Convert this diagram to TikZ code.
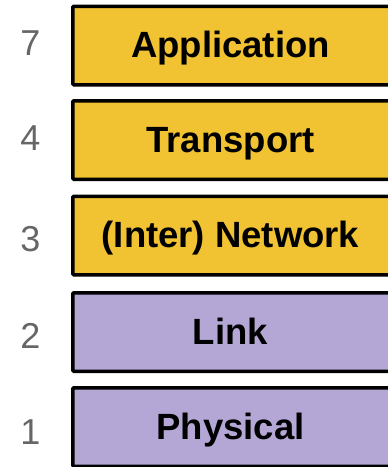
\documentclass[tikz,border=0pt]{standalone}
\usepackage{fontspec}
\setmainfont{Liberation Sans}
\definecolor{layeryellow}{HTML}{F1C232}
\definecolor{layerpurple}{HTML}{B4A7D6}
\definecolor{numgray}{HTML}{666666}
\tikzset{
  layer/.style={draw=black, line width=3.5pt, rounded corners=1pt,
    minimum width=330pt, minimum height=78.5pt, inner sep=0pt},
  upper/.style={layer, fill=layeryellow},
  lower/.style={layer, fill=layerpurple},
  layername/.style={font=\fontsize{36.5}{40}\selectfont\bfseries, text=black,
    text height=24pt, text depth=0pt, inner sep=0pt},
  layernum/.style={font=\fontsize{36}{40}\selectfont, text=numgray, anchor=base, inner sep=0pt}
}
\begin{document}
\begin{tikzpicture}[x=1pt,y=-1pt]
  \useasboundingbox (0,0) rectangle (388,467);
  \clip (0,0) rectangle (388,467);
  % stacked protocol layers
  \node[upper, label={[layername, xshift=-7.25pt]center:Application}] (app) at (237.75,45.5) {};
  \node[upper, label={[layername, xshift=-7.25pt]center:Transport}] (trans) at (237.75,140) {};
  \node[upper, label={[layername, xshift=-7.25pt]center:(Inter) Network}] (net) at (237.75,235.5) {};
  \node[lower, label={[layername, xshift=-7.25pt]center:Link}] (link) at (237.75,332) {};
  \node[lower, label={[layername, xshift=-7.25pt]center:Physical}] (phys) at (237.75,427) {};
  % layer numbers
  \node[layernum] (n7) at (30.5,55.5) {7};
  \node[layernum] (n4) at (30.5,150) {4};
  \node[layernum] (n3) at (30.5,251) {3};
  \node[layernum] (n2) at (30.5,348) {2};
  \node[layernum] (n1) at (30.5,444) {1};
\end{tikzpicture}
\end{document}
